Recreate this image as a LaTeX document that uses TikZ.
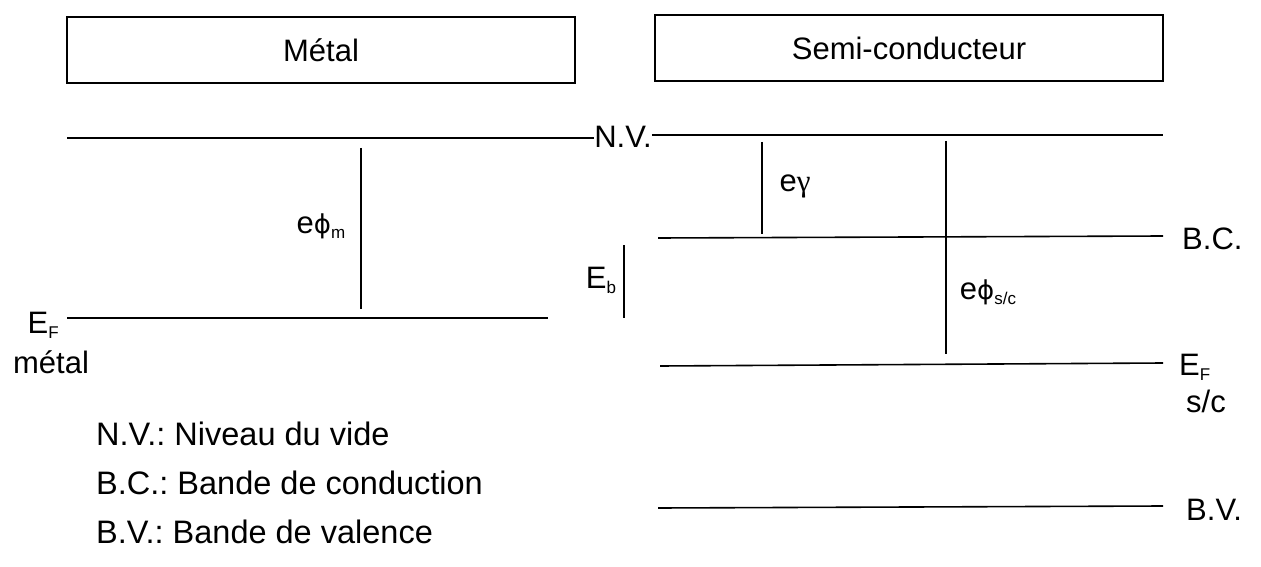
\documentclass[tikz,border=0pt]{standalone}
\usepackage{fontspec}
\setmainfont{Liberation Sans}
\newfontfamily\grk{DejaVu Sans}
\newfontfamily\grs{Liberation Serif}
\newcommand{\lowsub}[1]{\raisebox{-0.3ex}{\fontsize{17}{17}\selectfont #1}}
\newcommand{\phisym}{{\grk\fontsize{26}{26}\selectfont ϕ}}
\begin{document}
\frenchspacing
\begin{tikzpicture}[x=1pt,y=-1pt,
  level/.style={line width=1.6pt},
  vbar/.style={line width=1.6pt},
  lbl/.style={inner sep=0pt,font=\fontsize{31}{36}\selectfont},
  legend/.style={inner sep=0pt,anchor=base west,font=\fontsize{32.5}{38}\selectfont},
  titlebox/.style={draw,line width=1.4pt,minimum width=508pt,minimum height=66pt,inner sep=0pt,font=\fontsize{31}{36}\selectfont}]
\useasboundingbox (0,0) rectangle (1261,567);
% boxes
\node[titlebox] (metal) at (321,50) {Métal};
\node[titlebox] (sc) at (909,48) {Semi-conducteur};
% vacuum level
\node[lbl] (nv) at (623,137) {N.V.};
\coordinate (nvL) at (67,138);
\coordinate (nvR) at (1163,135);
\draw[level] (nvL) -- (nvL -| nv.west);
\draw[level] (nv.east |- nvR) -- (nvR);
% metal Fermi level
\coordinate (efmL) at (67,318);
\coordinate (efmR) at (548,318);
\draw[level] (efmL) -- (efmR);
\node[lbl,anchor=east] (efm) at (59,325) {E\lowsub{F}};
\node[lbl] (efmt) at (51,362) {métal};
% work function metal
\coordinate (phimT) at (361,148);
\coordinate (phimB) at (361,309);
\draw[vbar] (phimT) -- (phimB);
\node[lbl] (phim) at (321,226) {e\phisym\lowsub{m}};
% semiconductor levels
\coordinate (bcL) at (658,238);
\coordinate (bcR) at (1163,236);
\draw[level] (bcL) -- (bcR);
\node[lbl,anchor=west] (bc) at (1182,239) {B.C.};
\coordinate (efsL) at (660,366);
\coordinate (efsR) at (1163,363);
\draw[level] (efsL) -- (efsR);
\node[lbl,anchor=west] (efs) at (1179,367) {E\lowsub{F}};
\node[lbl] (efst) at (1206,401) {s/c};
\coordinate (bvL) at (658,508);
\coordinate (bvR) at (1163,506);
\draw[level] (bvL) -- (bvR);
\node[lbl,anchor=west] (bv) at (1186,510) {B.V.};
% electron affinity
\coordinate (chiT) at (762,142);
\coordinate (chiB) at (762,234);
\draw[vbar] (chiT) -- (chiB);
\node[lbl] (chi) at (795,186) {e{\grs γ}};
% work function s/c
\coordinate (phisT) at (946,141);
\coordinate (phisB) at (946,354);
\draw[vbar] (phisT) -- (phisB);
\node[lbl] (phis) at (988,292) {e\phisym\lowsub{s/c}};
% barrier
\coordinate (ebT) at (624,245);
\coordinate (ebB) at (624,318);
\draw[vbar] (ebT) -- (ebB);
\node[lbl] (eb) at (601,280) {E\lowsub{b}};
% legend
\node[legend] (l1) at (96,445) {N.V.: Niveau du vide};
\node[legend] (l2) at (96,494) {B.C.: Bande de conduction};
\node[legend] (l3) at (96,543) {B.V.: Bande de valence};
\end{tikzpicture}
\end{document}
